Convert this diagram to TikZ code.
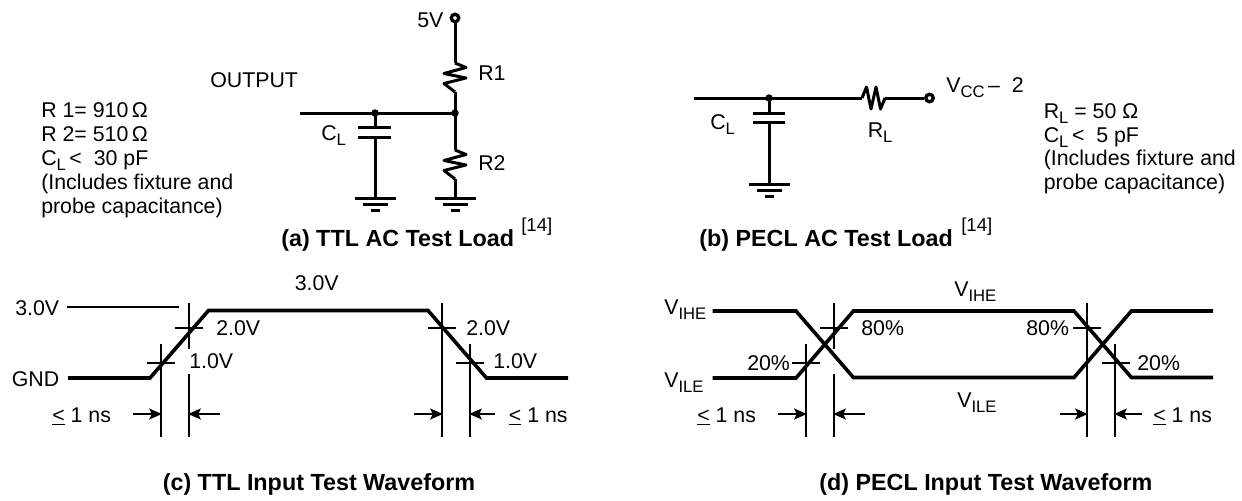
\documentclass[tikz,border=0pt]{standalone}
\usepackage{fontspec}
\setmainfont{Liberation Sans}
\usetikzlibrary{arrows.meta}
\newcommand\sbs[1]{\smash{\raisebox{-0.24em}{\fontsize{12.5}{12.5}\selectfont #1}}}
\tikzset{
  lbl/.style={anchor=base west,inner sep=0pt,font=\fontsize{16}{16}\selectfont},
  ttl/.style={anchor=base west,inner sep=0pt,font=\fontsize{17.5}{17.5}\selectfont\bfseries},
  ref/.style={anchor=base west,inner sep=0pt,font=\fontsize{14}{14}\selectfont},
  wire/.style={line width=2.25pt,line cap=butt,line join=miter},
  wave/.style={line width=2.7pt,line join=miter},
  mark line/.style={line width=2pt},
  timing/.style={line width=2.1pt,-{Stealth[length=9.5pt,width=8pt,inset=1.8pt]}},
  jdot/.style={circle,fill=black,inner sep=0pt,minimum size=5.6pt},
  term/.style={circle,draw=black,fill=white,line width=2.5pt,inner sep=0pt,minimum size=5.6pt},
  gnd/.pic={
    \draw[wire] (-20.5,0) -- (20.5,0);
    \draw[wire] (-12.5,6) -- (12.5,6);
    \draw[wire] (-4.5,12.5) -- (4.5,12.5);
  },
  vres/.pic={
    \draw[wire,line join=round] (0,0) -- (11,4.5) -- (-11,10.5) -- (11,15) -- (-11,20.5) -- (0,29);
  },
  hres/.pic={
    \draw[wire,line join=round] (0,0) -- (4.5,-11) -- (9,11) -- (14,-11) -- (18.5,11) -- (23,0);
  },
}
\begin{document}
\begin{tikzpicture}[x=0.75pt,y=-0.75pt]
\useasboundingbox (0,0) rectangle (1242,500);
\fill[white] (0,0) rectangle (1242,500);

% ---- (a)
\coordinate (outa) at (300,113);
\node[jdot] (ja) at (375,113) {};
\node[jdot] (jb) at (455,113) {};
\coordinate (r1t) at (455,63);
\coordinate (r1b) at (455,92);
\coordinate (r2t) at (455,150);
\coordinate (r2b) at (455,179);
\coordinate (g1) at (375,198);
\coordinate (g2) at (455,198);
\coordinate (cat) at (375,127);
\coordinate (cab) at (375,137);
\coordinate (vfp) at (455,18);
\draw[wire] (vfp) -- (r1t);
\node[term] (vfive) at (vfp) {};
\pic at (r1t) {vres};
\draw[wire] (r1b) -- (jb.center) -- (r2t);
\pic at (r2t) {vres};
\draw[wire] (r2b) -- (g2);
\draw[wire] (outa) -- (jb.center);
\draw[wire] (ja.center) -- (cat);
\draw[wire] (358,127) -- (391,127);
\draw[wire] (358,137) -- (391,137);
\draw[wire] (cab) -- (g1);
\pic at (g1) {gnd};
\pic at (g2) {gnd};
\node[lbl] at (417,27) {5V};
\node[lbl] at (210,87) {OUTPUT};
\node[lbl] at (478,80) {R1};
\node[lbl] at (478,170) {R2};
\node[lbl] at (321,140) {C\sbs{L}};
\node[lbl] at (41,117) {R 1= 910\,Ω};
\node[lbl] at (41,141) {R 2= 510\,Ω};
\node[lbl] at (41,165) {C\sbs{L}\,<\ \ 30 pF};
\node[lbl] at (41,189) {(Includes fixture and};
\node[lbl] at (41,213) {probe capacitance)};
\node[ttl] at (281,246) {(a) TTL AC Test Load};
\node[ref] at (521,231) {[14]};

% ---- (b)
\coordinate (outb) at (693.5,98);
\node[jdot] (jc) at (769,98) {};
\coordinate (rlt) at (862,98);
\coordinate (rlb) at (885,98);
\node[term] (vcc) at (929.5,98) {};
\coordinate (cbt) at (769,113);
\coordinate (cbb) at (769,122);
\coordinate (g3) at (769,184);
\draw[wire] (outb) -- (rlt);
\pic at (rlt) {hres};
\draw[wire] (rlb) -- (vcc);
\draw[wire] (jc.center) -- (cbt);
\draw[wire] (753,113) -- (785,113);
\draw[wire] (753,122) -- (785,122);
\draw[wire] (cbb) -- (g3);
\pic at (g3) {gnd};
\node[lbl] at (946,92) {V\sbs{CC}\,–\ \ 2};
\node[lbl] at (710,129) {C\sbs{L}};
\node[lbl] at (867.5,137) {R\sbs{L}};
\node[lbl] at (1043.5,118) {R\sbs{L} = 50 Ω};
\node[lbl] at (1043.5,142) {C\sbs{L}\,<\ \ 5 pF};
\node[lbl] at (1043.5,165) {(Includes fixture and};
\node[lbl] at (1043.5,189) {probe capacitance)};
\node[ttl] at (699,246) {(b) PECL AC Test Load};
\node[ref] at (961,231) {[14]};

% ---- (c)
\node[lbl] at (15,315) {3.0V};
\node[lbl] at (11.5,386) {GND};
\node[lbl] at (294.5,290) {3.0V};
\node[lbl] at (216,335) {2.0V};
\node[lbl] at (189,368) {1.0V};
\node[lbl] at (466,335) {2.0V};
\node[lbl] at (493,368) {1.0V};
\node[lbl] at (52,422) {\underline{<}\ 1 ns};
\node[lbl] at (508.6,422) {\underline{<}\ 1 ns};
\node[ttl] at (162.5,490) {(c) TTL Input Test Waveform};

\draw[mark line] (67,307) -- (179,307);
\draw[wave] (68,378) -- (150,378) -- (208.5,310.5) -- (428,310.5) -- (486.5,378) -- (568,378);
\draw[mark line] (161,344) -- (161,437);
\draw[mark line] (189,303) -- (189,349);
\draw[mark line] (189,374) -- (189,437);
\draw[mark line] (442,303) -- (442,437);
\draw[mark line] (470,344) -- (470,437);
\draw[mark line] (147,363) -- (175,363);
\draw[mark line] (175,328) -- (203,328);
\draw[mark line] (428,328) -- (456,328);
\draw[mark line] (456,363) -- (484,363);
\coordinate (ca1) at (133,414); \coordinate (ca2) at (162,414);
\coordinate (cb1) at (220,414); \coordinate (cb2) at (188,414);
\coordinate (cc1) at (414,414); \coordinate (cc2) at (443,414);
\coordinate (cd1) at (495,414); \coordinate (cd2) at (469,414);
\draw[timing] (ca1) -- (ca2);
\draw[timing] (cb1) -- (cb2);
\draw[timing] (cc1) -- (cc2);
\draw[timing] (cd1) -- (cd2);

% ---- (d)
\node[lbl] at (664,314) {V\sbs{IHE}};
\node[lbl] at (664,387) {V\sbs{ILE}};
\node[lbl] at (954,296) {V\sbs{IHE}};
\node[lbl] at (957,407) {V\sbs{ILE}};
\node[lbl] at (747,370) {20\%};
\node[lbl] at (861,335) {80\%};
\node[lbl] at (1026,335) {80\%};
\node[lbl] at (1137,370) {20\%};
\node[lbl] at (697,422) {\underline{<}\ 1 ns};
\node[lbl] at (1153,422) {\underline{<}\ 1 ns};
\node[ttl] at (819,490) {(d) PECL Input Test Waveform};

\draw[wave] (712.7,311) -- (796,311) -- (853.4,377.5) -- (1074,377.5) -- (1131.4,311) -- (1213,311);
\draw[wave] (712.7,378) -- (796,378) -- (853.4,311) -- (1074,311) -- (1131.4,377.5) -- (1213,377.5);
\draw[mark line] (806,344) -- (806,437);
\draw[mark line] (834,303) -- (834,349);
\draw[mark line] (834,374) -- (834,437);
\draw[mark line] (1087,303) -- (1087,437);
\draw[mark line] (1115,344) -- (1115,437);
\draw[mark line] (792,363) -- (820,363);
\draw[mark line] (820,328) -- (848.4,328);
\draw[mark line] (1073,328) -- (1101,328);
\draw[mark line] (1102,363) -- (1129.5,363);
\coordinate (da1) at (778,414); \coordinate (da2) at (807,414);
\coordinate (db1) at (865,414); \coordinate (db2) at (833,414);
\coordinate (dc1) at (1059.5,414); \coordinate (dc2) at (1088,414);
\coordinate (dd1) at (1142,414); \coordinate (dd2) at (1114,414);
\draw[timing] (da1) -- (da2);
\draw[timing] (db1) -- (db2);
\draw[timing] (dc1) -- (dc2);
\draw[timing] (dd1) -- (dd2);
\end{tikzpicture}
\end{document}
